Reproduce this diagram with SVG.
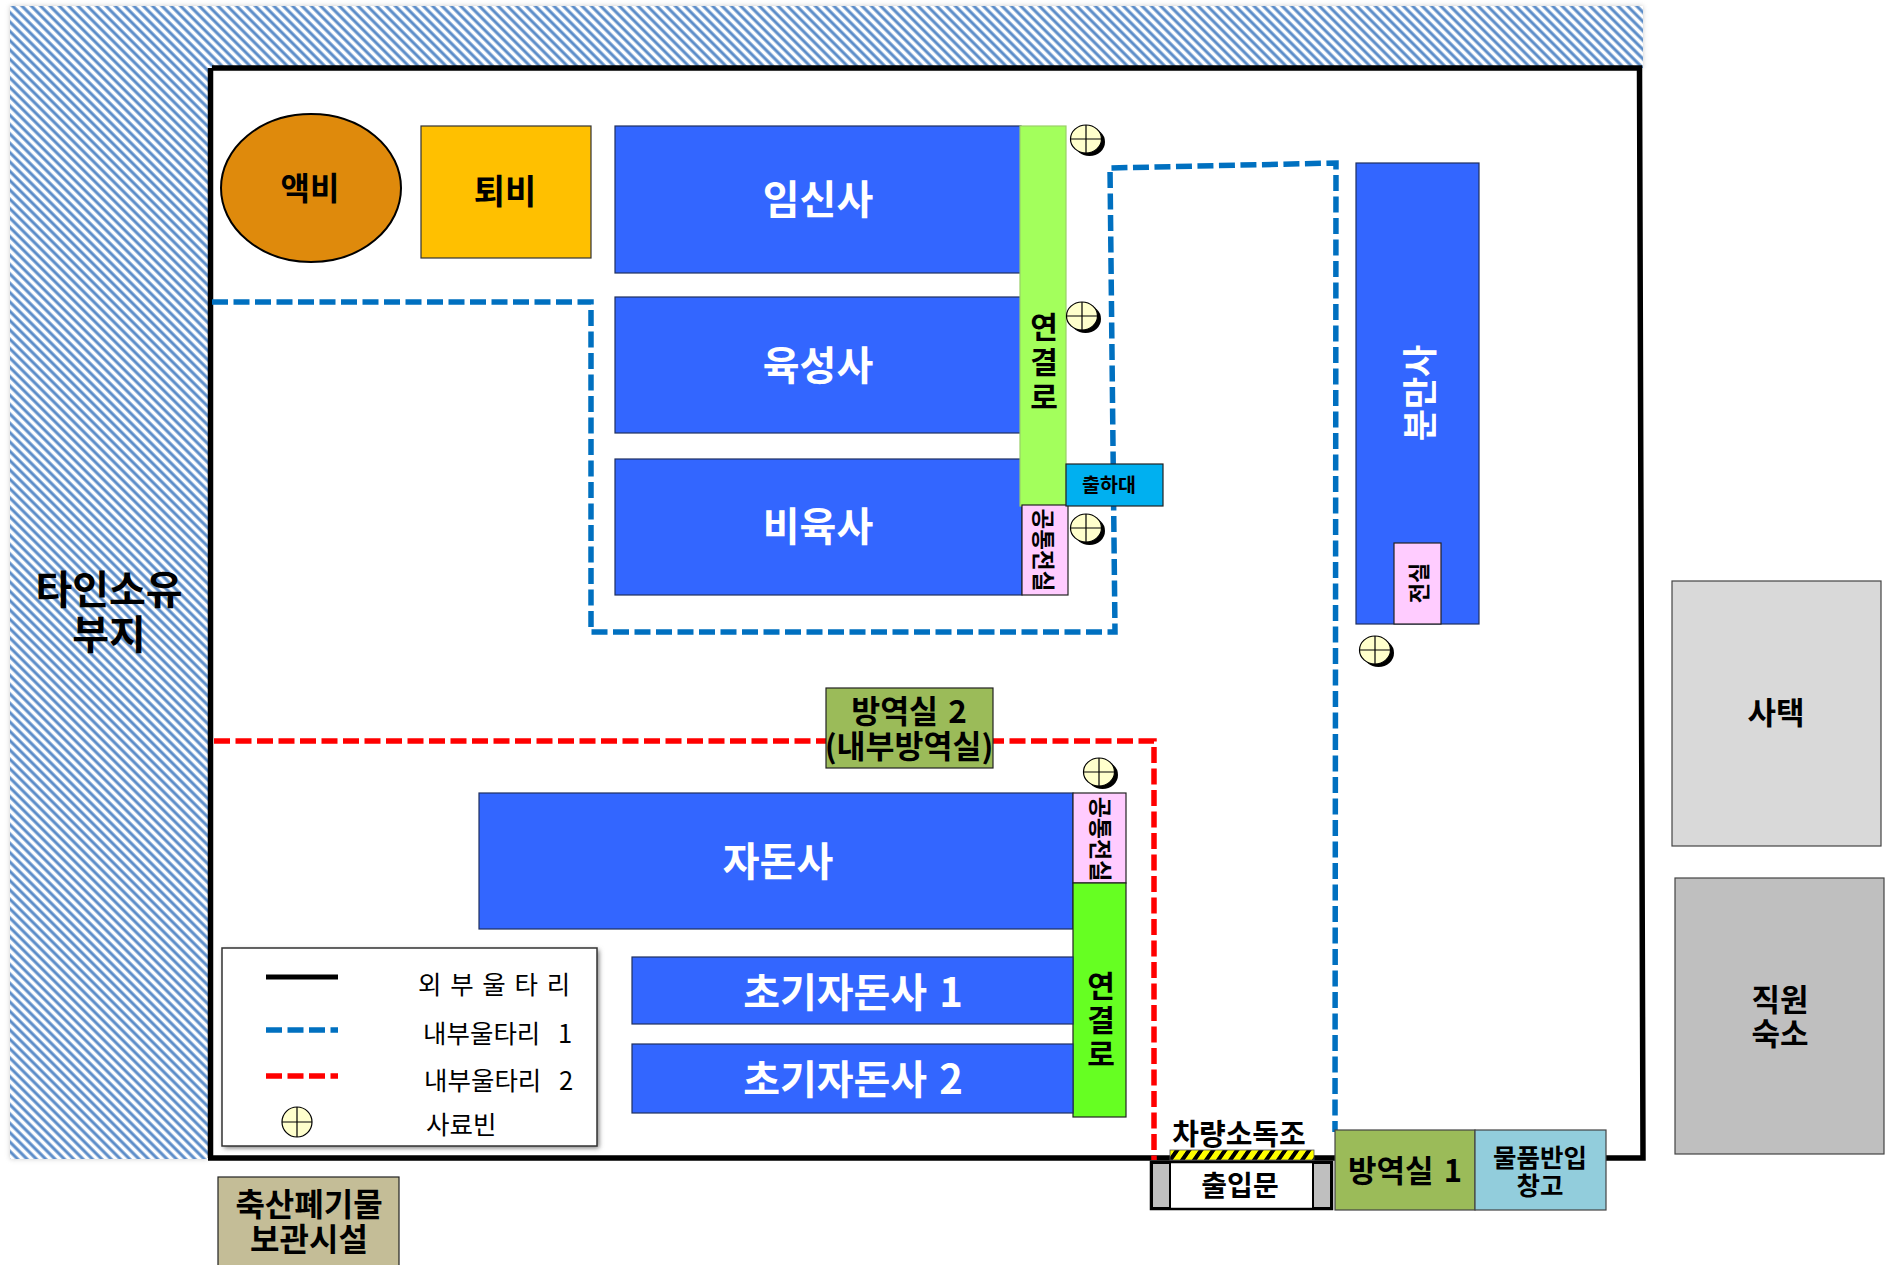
<svg xmlns="http://www.w3.org/2000/svg" width="1893" height="1265" viewBox="0 0 1893 1265">
<style>
text{font-family:"Noto Sans CJK KR","Noto Sans",sans-serif;text-anchor:middle;dominant-baseline:central;fill:#000;font-weight:700}
.w{fill:#fff}
.bld{fill:#3366ff;stroke:#1f2f5f;stroke-width:1.2}
.pink{fill:#ffccff;stroke:#222;stroke-width:1.2}
.leg{font-weight:400;text-anchor:start;font-size:25.500px}
.fence{fill:none;stroke:#000;stroke-width:5.500}
.d1{fill:none;stroke:#0070c0;stroke-width:5.500;stroke-dasharray:16 5.5}
.d2{fill:none;stroke:#ff0000;stroke-width:5.500;stroke-dasharray:16 5.5}
</style>
<defs>
<pattern id="hatch" width="6.600" height="6.600" patternUnits="userSpaceOnUse" patternTransform="rotate(45)">
<rect width="6.600" height="6.600" fill="#ffffff"/>
<rect width="6.600" y="0" height="3.800" fill="#a9c3e3"/>
<rect width="6.600" y="0.800" height="2.200" fill="#5b8cc8"/>
</pattern>
<pattern id="caution" width="12" height="12" patternUnits="userSpaceOnUse" patternTransform="skewX(-35)">
<rect width="12" height="12" fill="#ffff00"/>
<rect width="5" height="12" fill="#000"/>
</pattern>
<filter id="soft" x="-5%" y="-5%" width="110%" height="110%"><feGaussianBlur stdDeviation="2.5"/></filter>
<g id="binShadow">
<ellipse cx="3.5" cy="3" rx="15.5" ry="14" fill="#000"/>
<ellipse cx="0" cy="0" rx="15.5" ry="14" fill="#ffffcc" stroke="#000" stroke-width="1.2"/>
<path d="M-15.5 0H15.5M0-14V14" stroke="#000" stroke-width="1.2"/>
</g>
</defs>
<rect width="1893" height="1265" fill="#fff"/>
<g id="hatched-land">
<path d="M10 6H1643V68H208V1159H10Z" fill="#999" opacity=".5" filter="url(#soft)"/>
<path d="M10 6H1643V68H208V1159H10Z" fill="url(#hatch)"/>
<text x="109" y="587" font-size="40">타인소유</text>
<text x="109" y="632" font-size="40">부지</text>
</g>
<g id="connectors">
<path class="fence" d="M212 68H1639.500L1643 1158H208M210.500 68V1158"/>
<path class="d1" d="M212 302H591V632H1115L1110 168L1336 163L1335 1132"/>
<path class="d2" d="M214 741H1154V1160"/>
</g>
<g id="node-liquid"><ellipse cx="311" cy="188" rx="90" ry="74" fill="#df8a0c" stroke="#000" stroke-width="2"/><text x="310" y="186" font-size="32">액비</text></g>
<g id="node-compost"><rect x="421" y="126" width="170" height="132" fill="#ffc000" stroke="#333" stroke-width="1.2"/><text x="505" y="189" font-size="34">퇴비</text></g>
<g id="node-gestation"><rect class="bld" x="615" y="126" width="406" height="147"/><text class="w" x="818" y="197" font-size="40">임신사</text></g>
<g id="node-nursery"><rect class="bld" x="615" y="297" width="406" height="136"/><text class="w" x="818" y="363" font-size="40">육성사</text></g>
<g id="node-finishing"><rect class="bld" x="615" y="459" width="407" height="136"/><text class="w" x="818" y="524" font-size="40">비육사</text></g>
<g id="node-link1"><rect x="1020" y="126" width="46" height="380" fill="#a3ff5c" stroke="#9ad068" stroke-width="1.2"/><text x="1044" y="325" font-size="30">연<tspan x="1044" y="360">결</tspan><tspan x="1044" y="395">로</tspan></text></g>
<g id="node-anteroom1"><rect class="pink" x="1022" y="505" width="46" height="90"/><text transform="rotate(90 1045 550)" x="1045" y="550" font-size="22.500">공통전실</text></g>
<g id="node-loading"><rect x="1066" y="464" width="97" height="42" fill="#00b0f0" stroke="#222" stroke-width="1.2"/><text x="1109" y="483" font-size="19.500">출하대</text></g>
<g id="node-farrowing"><rect class="bld" x="1356" y="163" width="123" height="461"/><text class="w" transform="rotate(-90 1417 393)" x="1417" y="393" font-size="35" font-weight="500">분만사</text></g>
<g id="node-anteroom2"><rect class="pink" x="1394" y="543" width="47" height="81"/><text transform="rotate(-90 1417 583)" x="1417" y="583" font-size="22">전실</text></g>
<g id="node-quarantine2"><rect x="826" y="688" width="167" height="80" fill="#9bbb59" stroke="#222" stroke-width="1.2"/><text x="909" y="709" font-size="31.500" word-spacing="3">방역실 2</text><text x="909" y="744" font-size="31.500">(내부방역실)</text></g>
<g id="node-weaner"><rect class="bld" x="479" y="793" width="594" height="136"/><text class="w" x="778" y="859" font-size="40">자돈사</text></g>
<g id="node-anteroom3"><rect class="pink" x="1073" y="793" width="53" height="90"/><text transform="rotate(90 1102 839)" x="1102" y="839" font-size="23">공통전실</text></g>
<g id="node-link2"><rect x="1073" y="883" width="53" height="234" fill="#66ff22" stroke="#222" stroke-width="1.2"/><text x="1101" y="984" font-size="30">연<tspan x="1101" y="1018">결</tspan><tspan x="1101" y="1052">로</tspan></text></g>
<g id="node-early1"><rect class="bld" x="632" y="957" width="441" height="67"/><text class="w" x="853" y="990" font-size="40" word-spacing="3">초기자돈사 1</text></g>
<g id="node-early2"><rect class="bld" x="632" y="1044" width="441" height="69"/><text class="w" x="853" y="1077" font-size="40" word-spacing="3">초기자돈사 2</text></g>
<g id="bins">
<use href="#binShadow" x="1086" y="139"/>
<use href="#binShadow" x="1082" y="316"/>
<use href="#binShadow" x="1086" y="528"/>
<use href="#binShadow" x="1375" y="650"/>
<use href="#binShadow" x="1099" y="772"/>
</g>
<g id="legend">
<rect x="224" y="950" width="375" height="198" fill="#777" filter="url(#soft)"/>
<rect x="222" y="948" width="375" height="198" fill="#fff" stroke="#333" stroke-width="1.500"/>
<path d="M266 977H338" stroke="#000" stroke-width="5"/>
<path class="d1" d="M266 1030H338"/>
<path class="d2" d="M266 1076H338"/>
<circle cx="297" cy="1122" r="15" fill="#ffffcc" stroke="#000" stroke-width="1.2"/>
<path d="M282 1122H312M297 1107V1137" stroke="#000" stroke-width="1.2"/>
<text class="leg" x="418" y="982" word-spacing="3">외 부 울 타 리</text>
<text class="leg" x="423" y="1031">내부울타리 <tspan x="558">1</tspan></text>
<text class="leg" x="424" y="1078">내부울타리 <tspan x="559">2</tspan></text>
<text class="leg" x="426" y="1122">사료빈</text>
</g>
<g id="node-waste"><rect x="218" y="1177" width="181" height="100" fill="#c4bd97" stroke="#222" stroke-width="1.2"/><text x="309" y="1202" font-size="32">축산폐기물</text><text x="309" y="1237" font-size="32">보관시설</text></g>
<g id="node-gate">
<rect x="1151" y="1162" width="181" height="47" fill="#fff" stroke="#000" stroke-width="2.500"/>
<rect x="1152" y="1163" width="18" height="45" fill="#bfbfbf" stroke="#000" stroke-width="2"/>
<rect x="1313" y="1163" width="18" height="45" fill="#bfbfbf" stroke="#000" stroke-width="2"/>
<text x="1240" y="1184" font-size="28">출입문</text>
</g>
<g id="node-disinfect"><rect x="1170" y="1150" width="144" height="10" fill="url(#caution)" stroke="#555" stroke-width=".8"/><text x="1239" y="1132" font-size="29">차량소독조</text></g>
<g id="node-quarantine1"><rect x="1335" y="1130" width="140" height="80" fill="#9bbb59" stroke="#444" stroke-width="1.2"/><text x="1405" y="1168" font-size="31" word-spacing="3">방역실 1</text></g>
<g id="node-storage"><rect x="1475" y="1130" width="131" height="80" fill="#92cddc" stroke="#444" stroke-width="1.2"/><text x="1540" y="1155" font-size="25.500">물품반입</text><text x="1540" y="1183" font-size="25.500">창고</text></g>
<g id="node-housing"><rect x="1672" y="581" width="209" height="265" fill="#d9d9d9" stroke="#444" stroke-width="1.2"/><text x="1776" y="710" font-size="31">사택</text></g>
<g id="node-staff"><rect x="1675" y="878" width="209" height="276" fill="#bfbfbf" stroke="#444" stroke-width="1.2"/><text x="1780" y="997" font-size="31">직원</text><text x="1780" y="1031" font-size="31">숙소</text></g>
</svg>
